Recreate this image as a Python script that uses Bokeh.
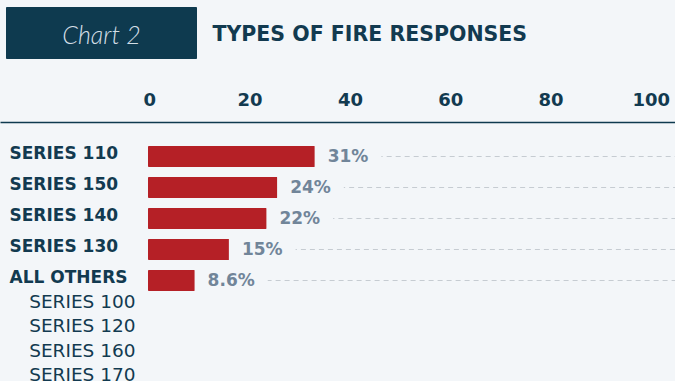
from bokeh.plotting import figure
from bokeh.layouts import column
from bokeh.models import Range1d, LinearAxis, FixedTicker
from bokeh.core.properties import value
from bokeh.embed import file_html
from bokeh.resources import INLINE

# ---- data ----
categories = ["SERIES 110", "SERIES 150", "SERIES 140", "SERIES 130", "ALL OTHERS"]
shares = [31, 24, 22, 15, 8.6]
share_labels = ["31%", "24%", "22%", "15%", "8.6%"]
other_series = ["SERIES 100", "SERIES 120", "SERIES 160", "SERIES 170"]
tick_values = [0, 20, 40, 60, 80, 100]
chart_tag = "Chart 2"
chart_title = "TYPES OF FIRE RESPONSES"

# ---- style ----
BG = "#f3f6f9"
NAVY = "#0e3a4f"
TEXT = "#123a50"
RED = "#b52026"
GREY = "#718599"
DASH = "#c6ccd2"
FONT = "DejaVu Sans"

W = 675
H1 = 70            # header height
H2 = 381 - H1      # chart height
TOP = 52           # space above the plotting frame (axis area)

# ---------------- header ----------------
hdr = figure(width=W, height=H1, output_backend="svg", toolbar_location=None,
             x_range=Range1d(0, W), y_range=Range1d(H1, 0),
             x_axis_location=None, y_axis_location=None,
             min_border=0)
hdr.background_fill_color = BG
hdr.border_fill_color = BG
hdr.outline_line_color = None
hdr.xgrid.visible = False
hdr.ygrid.visible = False
hdr.quad(left=[6], right=[196], top=[7], bottom=[58], color=NAVY)
hdr.text(x=[101], y=[33], text=[chart_tag], text_font=value("Lato Light"),
         text_font_style="italic", text_font_size="25px", text_color="#d3dee6",
         text_align="center", text_baseline="middle")
hdr.text(x=[212], y=[33.5], text=[chart_title], text_font=value(FONT),
         text_font_style="bold", text_font_size="20.5px", text_color=TEXT,
         text_align="left", text_baseline="middle")

# ---------------- chart ----------------
rows = list(range(len(categories)))
row0 = 86          # pixel position of first row inside the chart figure
step = 31

p = figure(width=W, height=H2, output_backend="svg", toolbar_location=None,
           x_range=Range1d(-148 / 5.36, (W - 148) / 5.36),
           y_range=Range1d((H2 - row0) / step, (TOP - row0) / step),
           x_axis_location=None, y_axis_location=None,
           min_border_left=0, min_border_right=0, min_border_bottom=0,
           min_border_top=TOP)
p.background_fill_color = BG
p.border_fill_color = BG
p.outline_line_color = None
p.xgrid.visible = False
p.ygrid.visible = False

# axis with its own scale (as in the reference)
p.extra_x_ranges = {"axis": Range1d(-149.3 / 5.015, (W - 149.3) / 5.015)}
ax = LinearAxis(x_range_name="axis", ticker=FixedTicker(ticks=tick_values))
ax.axis_line_color = NAVY
ax.axis_line_width = 1.5
ax.major_tick_line_color = None
ax.minor_tick_line_color = None
ax.major_tick_out = 0
ax.major_tick_in = 0
ax.major_label_standoff = 17
ax.major_label_text_font = FONT
ax.major_label_text_font_style = "bold"
ax.major_label_text_font_size = "18px"
ax.major_label_text_color = TEXT
p.add_layout(ax, "above")

x_end = p.x_range.end

# dashed guide lines
p.segment(x0=shares, y0=rows, x1=[x_end] * len(rows), y1=rows,
          line_color=DASH, line_width=1, line_dash="5 4")

# bars
p.hbar(y=rows, left=0, right=shares, height=20 / step, color=RED)

# value labels
p.text(x=shares, y=rows, text=share_labels, y_offset=-1,
       text_font=value(FONT), text_font_style="bold", text_font_size="17px",
       text_color=GREY, text_align="left", text_baseline="middle",
       background_fill_color=BG, padding=(13, 2))

# category labels
p.text(x=[p.x_range.start] * len(rows), y=rows, text=categories, x_offset=9, y_offset=-3.5,
       text_font=value(FONT), text_font_style="bold", text_font_size="17px",
       text_color=TEXT, text_align="left", text_baseline="middle")

# members of "all others"
oy = [rows[-1] + 0.68 + k * 0.785 for k in range(len(other_series))]
p.text(x=[0] * len(oy), y=oy, text=other_series, x_offset=-13,
       text_font=value(FONT), text_font_size="18.5px",
       text_color=TEXT, text_align="right", text_baseline="middle")

layout = column(hdr, p, spacing=0, styles={"background-color": BG})
html = file_html(layout, INLINE)
html = html.replace("<head>", "<head><style>html, body { background: %s; }</style>" % BG, 1)
open("out.html", "w").write(html)
